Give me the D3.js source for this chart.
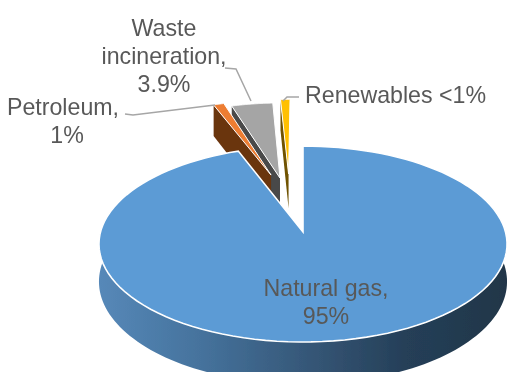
<!DOCTYPE html>
<html><head><meta charset="utf-8">
<script src="https://cdn.jsdelivr.net/npm/d3@7"></script>
<style>html,body{margin:0;padding:0;background:#fff}svg{display:block}text{font-family:"Liberation Sans",Arial,sans-serif;font-size:23.2px;fill:#595959}</style>
</head><body><svg id="c" width="508" height="372"></svg>
<script>
const categories = ["Natural gas", "Petroleum", "Waste incineration", "Renewables"];
const shares = [94.2, 1, 3.9, 0.9];
const topColors = ["#5b9bd5", "#ed7d31", "#a5a5a5", "#ffc000"];
const wallColors = ["#3d6387", "#6b3410", "#484848", "#6f5200"];
const labelLines = [["Natural gas,", "95%"], ["Petroleum,", "1%"], ["Waste", "incineration,", "3.9%"], ["Renewables <1%"]];

// layout
const W = 508, H = 372, cx = 303, cy = 232, R = 202.5, T = 96.5, K = 0.1227, DEPTH = 37;
const explode = [[0, 0], [-0.17, -0.636], [-0.122, -0.6], [-0.077, -0.65]];
const labelPos = [[326, 296, "middle"], [67, 115, "middle"], [164, 36, "middle"], [305, 103, "start"]];
const labelShift = [[0, 0], [-4, 0], [0, 0, 0], [0]];
const leaders = [null,
  [[125, 114], [133, 115], [215, 105]],
  [[225, 68], [236, 69], [251, 101]],
  [[299, 97], [287, 97], [283, 101]]];

const svg = d3.select("#c");
const arcs = d3.pie().sort(null).value(d => d).startAngle(0).endAngle(2 * Math.PI)(shares);

// plane -> screen perspective; z = 0 top face, z = 1 bottom face
function project(u, v, z) {
  const w = 1 - K * v;
  return [cx + R * u / w, cy + (T * v + z * DEPTH) / w];
}
const line = d3.line();
function rim(i, a, z) {
  const [ox, oy] = explode[i];
  return project(ox + Math.sin(a), oy - Math.cos(a), z);
}
function samples(a0, a1) { return d3.range(0, 1.0001, 1 / 120).map(t => a0 + (a1 - a0) * t); }
function apex(i, z) { return project(explode[i][0], explode[i][1], z); }

const defs = svg.append("defs");
const grad = defs.append("linearGradient").attr("id", "side").attr("gradientUnits", "userSpaceOnUse")
  .attr("x1", 100).attr("x2", 508).attr("y1", 0).attr("y2", 0);
[[0, "#5688b8"], [0.25, "#45729c"], [0.55, "#335372"], [0.75, "#253f58"], [1, "#213648"]]
  .forEach(s => grad.append("stop").attr("offset", s[0]).attr("stop-color", s[1]));
defs.append("filter").attr("id", "soft").attr("x", 0).attr("y", 0).attr("width", 1).attr("height", 1)
  .attr("filterUnits", "objectBoundingBox")
  .append("feGaussianBlur").attr("stdDeviation", 0.45);

const root = svg.append("g").attr("filter", "url(#soft)");
root.append("rect").attr("width", W).attr("height", H).attr("fill", "#fff");

// blue outer wall
const front = samples(Math.PI * 0.4, Math.PI * 1.6);
root.append("path")
  .attr("d", line(front.map(a => rim(0, a, 0)).concat(front.slice().reverse().map(a => rim(0, a, 1)))) + "Z")
  .attr("fill", "url(#side)");

// exploded slices, back to front
[3, 2, 1].forEach(i => {
  const d = arcs[i];
  const g = root.append("g");
  g.append("path")
    .attr("d", line([rim(i, d.startAngle, 0), apex(i, 0), apex(i, 1), rim(i, d.startAngle, 1)]) + "Z")
    .attr("fill", wallColors[i]);
  g.append("path")
    .attr("d", line([apex(i, 0)].concat(samples(d.startAngle, d.endAngle).map(a => rim(i, a, 0)))) + "Z")
    .attr("fill", topColors[i]).attr("stroke", "#fff").attr("stroke-width", 1);
});

// large slice
const big = arcs[0];
root.append("path")
  .attr("d", line([apex(0, 0)].concat(samples(big.startAngle, big.endAngle).map(a => rim(0, a, 0)))) + "Z")
  .attr("fill", topColors[0]).attr("stroke", "#fff").attr("stroke-width", 1.6);

// leaders
leaders.forEach(p => {
  if (p) root.append("path").attr("d", line(p)).attr("fill", "none").attr("stroke", "#a6a6a6").attr("stroke-width", 1.5);
});

// labels
labelLines.forEach((ls, i) => {
  const t = root.append("text").attr("text-anchor", labelPos[i][2]);
  ls.forEach((s, j) => t.append("tspan").attr("x", labelPos[i][0] + labelShift[i][j]).attr("y", labelPos[i][1] + j * 28).text(s));
});
</script></body></html>
